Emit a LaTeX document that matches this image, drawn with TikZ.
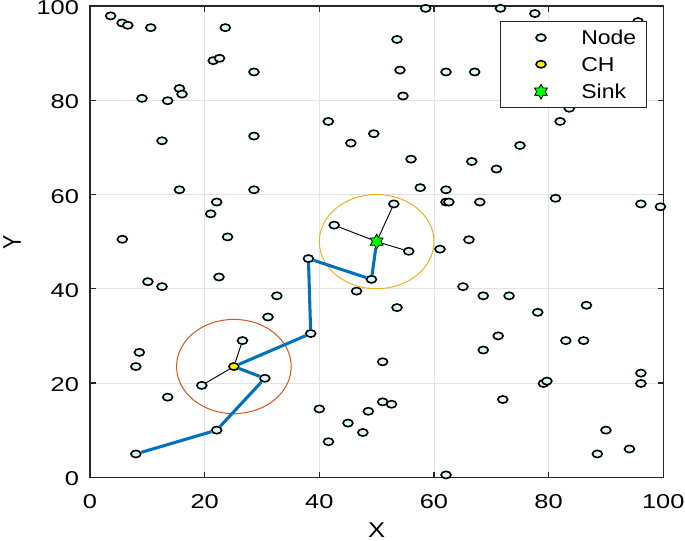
\documentclass[tikz,border=0pt]{standalone}
\usepackage{fontspec}
\setmainfont{Liberation Sans}
\usetikzlibrary{shapes.geometric}
\definecolor{NodeFill}{HTML}{DDF7F7}
\definecolor{RouteBlue}{HTML}{0072BD}
\definecolor{ClusterOrange}{HTML}{D95319}
\definecolor{ClusterYellow}{HTML}{EDB120}
\definecolor{AxisGray}{HTML}{262626}
\definecolor{GridGray}{HTML}{E3E3E3}
\tikzset{
  sensor/.style={ellipse,draw=black,fill=NodeFill,line width=1.2pt,inner sep=0pt,minimum width=7.4pt,minimum height=5.4pt},
  head/.style={sensor,fill=yellow},
  sinkstar/.style={star,star points=6,star point ratio=1.7,draw=black,fill=green,line width=0.6pt,inner sep=0pt,minimum size=11pt},
  route/.style={RouteBlue,line width=2.3pt,line join=round},
  member/.style={black,line width=0.7pt},
  gridline/.style={GridGray,line width=0.7pt},
  ticklab/.style={font=\fontsize{15}{18}\selectfont,inner sep=0pt,xscale=1.27},
  leglab/.style={font=\fontsize{15}{18}\selectfont,inner sep=0pt,xscale=1.15,anchor=west},
  axlab/.style={font=\fontsize{16}{20}\selectfont,inner sep=0pt,xscale=1.2},
}

\begin{document}
\begin{tikzpicture}[x=4.3pt,y=3.535pt]
\useasboundingbox (-15.70,-13.52) rectangle (103.79,101.27);
% grid and axes
\foreach \g in {20,40,60,80} {
  \draw[gridline] (\g,0) -- (\g,100);
  \draw[gridline] (0,\g) -- (100,\g);
}
\draw[AxisGray,line width=1pt] (0,0) rectangle (100,100);
\foreach \v in {0,20,...,100} {
  \draw[AxisGray,line width=1pt] (\v,0) -- (\v,1.2) (\v,100) -- (\v,98.8);
  \draw[AxisGray,line width=1pt] (0,\v) -- (1,\v) (100,\v) -- (99,\v);
  \node[ticklab,anchor=base] (xt\v) at (\v,-6.58) {\v};
  \node[ticklab,anchor=east] (yt\v) at (-1.87,\v-0.35) {\v};
}
\node[axlab,anchor=base] (xlab) at (50,-12.75) {X};
\node[axlab,rotate=90] (ylab) at (-13.6,49.9) {Y};

% plain sensor nodes
\foreach \px/\py [count=\i] in {3.6/97.9, 5.6/96.4, 6.6/95.9, 10.6/95.4, 23.6/95.4, 21.5/88.4, 22.6/88.9,
  9.07/80.4, 13.55/79.9, 15.6/82.5, 16.05/81.3, 12.56/71.4, 15.6/61.0, 28.6/86.0, 28.6/72.4, 28.6/61.0,
  22.1/58.4, 58.55/99.5, 53.55/92.9, 54.07/86.4, 62.1/86.0, 67.1/86.0, 54.6/80.9, 41.57/75.5, 45.5/70.9,
  49.5/72.9, 56.0/67.5, 66.6/67.0, 70.9/65.4, 57.6/61.45, 62.1/61.0, 71.6/99.5, 62.1/58.4, 62.6/58.4,
  77.6/98.4, 95.6/96.7, 83.6/78.3, 82.0/75.5, 75.0/70.4, 81.2/59.2, 5.64/50.5, 21.05/55.9, 24.0/51.0,
  10.1/41.5, 12.56/40.45, 22.5/42.5, 8.6/26.5, 68.0/58.4, 61.05/48.4, 66.1/50.4, 46.5/39.5, 32.6/38.5,
  31.05/34.0, 53.55/36.0, 65.06/40.45, 68.6/38.5, 71.2/30.0, 68.6/27.0, 51.05/24.5, 96.1/58.0, 99.5/57.4,
  73.1/38.5, 78.1/35.0, 86.6/36.5, 83.0/29.0, 86.1/29.0, 8.0/23.5, 13.55/17.0, 40.0/14.5, 51.05/16.0,
  52.6/15.5, 48.55/14.0, 45.0/11.5, 47.6/9.5, 41.6/7.55, 62.1/0.5, 72.0/16.5, 79.1/19.9, 79.7/20.4,
  96.1/22.1, 96.1/19.9, 90.0/10.0, 94.1/6.0, 88.5/4.95}
  \node[sensor] (s\i) at (\px,\py) {};

% route and cluster members
\node[sensor] (r1) at (8.0,4.95) {};
\node[sensor] (r2) at (22.1,10.0) {};
\node[sensor] (r3) at (30.5,21.0) {};
\node[sensor] (r4) at (38.5,30.5) {};
\node[sensor] (r5) at (38.1,46.4) {};
\node[sensor] (r6) at (49.1,42.0) {};
\node[sensor] (m1) at (19.5,19.5) {};
\node[sensor] (m2) at (26.6,29.0) {};
\node[sensor] (m3) at (53.0,58.0) {};
\node[sensor] (m4) at (42.6,53.5) {};
\node[sensor] (m5) at (55.6,47.95) {};
\node[head] (ch) at (25.1,23.5) {};
\node[sinkstar] (sink) at (50.0,50.0) {};

% cluster ranges
\draw[ClusterOrange,line width=0.75pt] (ch.center) circle [x radius=10,y radius=10];
\draw[ClusterYellow,line width=0.75pt] (sink.center) circle [x radius=10,y radius=10];

% links
\draw[member] (ch) -- (m1);
\draw[member] (ch) -- (m2);
\draw[member] (sink) -- (m3);
\draw[member] (sink) -- (m4);
\draw[member] (sink) -- (m5);
\draw[route] (r1) -- (r2) -- (r3) -- (ch) -- (r4) -- (r5) -- (r6) -- (sink);

% legend
\node[draw=AxisGray,fill=white,line width=0.7pt,minimum width=109pt,minimum height=64.5pt] (legend) at (84.31,87.55) {};
\node[sensor] (keynode) at (78.67,93.27) {};
\node[head] (keych) at (78.67,87.63) {};
\node[sinkstar] (keysink) at (78.67,81.82) {};
\node[leglab] (txtnode) at (85.65,93.27) {Node};
\node[leglab] (txtch) at (85.65,87.63) {CH};
\node[leglab] (txtsink) at (85.65,81.82) {Sink};
\end{tikzpicture}
\end{document}
